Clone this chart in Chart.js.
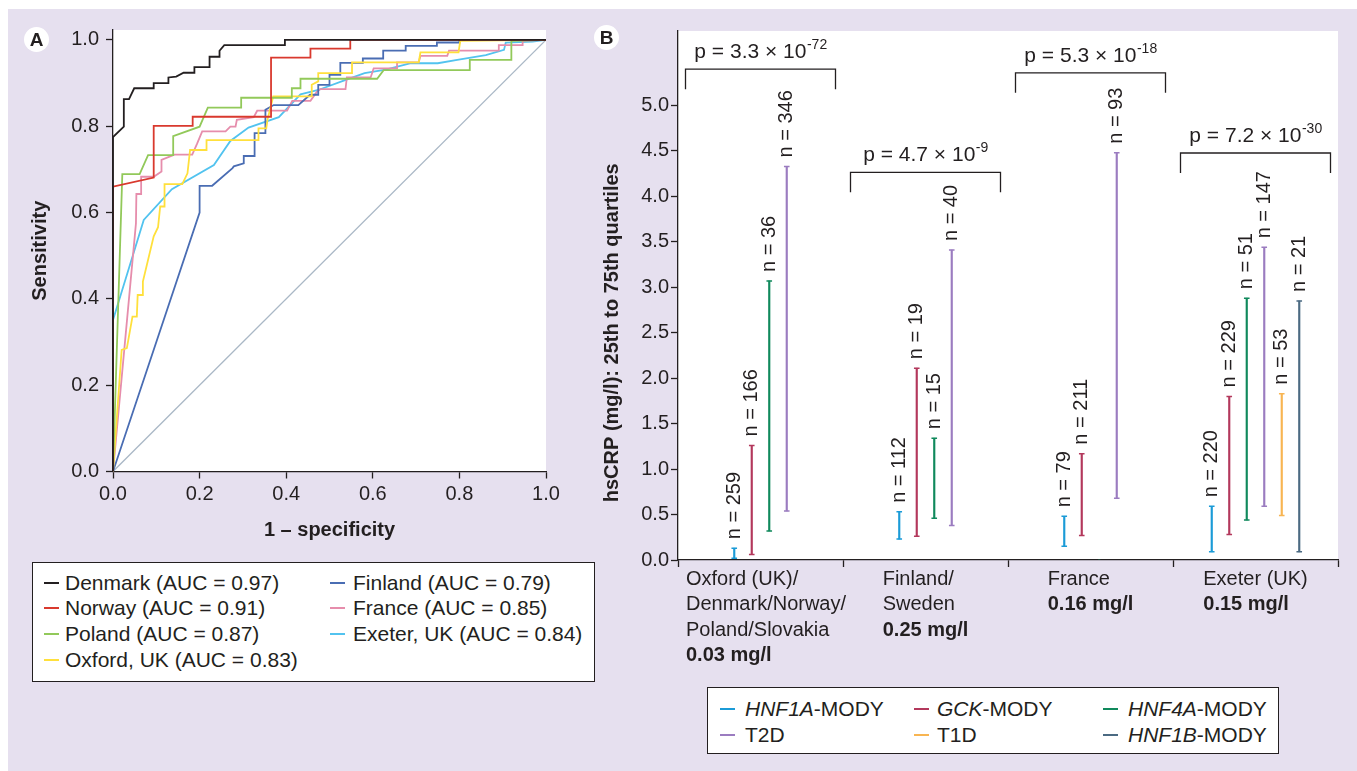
<!DOCTYPE html>
<html><head><meta charset="utf-8">
<script src="https://cdn.jsdelivr.net/npm/chart.js@4.4.1/dist/chart.umd.min.js"></script>
<style>
html,body{margin:0;padding:0;background:#fff;}
body{width:1357px;height:771px;position:relative;overflow:hidden;font-family:'Liberation Sans',Arial,Helvetica,sans-serif;color:#231f20;}
#bg{position:absolute;left:8px;top:9px;width:1349px;height:762px;background:#e6e0ef;}
canvas{position:absolute;}
#cA{left:8px;top:9px;width:582px;height:551px;}
#cB{left:590px;top:9px;width:767px;height:676px;}
.badge{position:absolute;width:25px;height:25px;border-radius:50%;background:#fff;font-weight:bold;font-size:19px;line-height:26px;text-align:center;}
.legend{position:absolute;background:#fff;border:1px solid #231f20;box-sizing:border-box;}
.item{position:absolute;white-space:nowrap;line-height:24px;height:24px;}
.swatch{position:absolute;height:2px;}
</style></head>
<body>
<div id="bg"></div>
<canvas id="cA" width="582" height="551"></canvas>
<canvas id="cB" width="767" height="676"></canvas>
<div class="badge" style="left:24px;top:27px;">A</div>
<div class="badge" style="left:594px;top:25px;">B</div>
<div id="legA" class="legend" style="left:32px;top:562px;width:563px;height:120px;font-size:21px;"></div>
<div id="legB" class="legend" style="left:707px;top:687px;width:572px;height:67px;font-size:21px;"></div>
<script>
// ---------- Panel A: ROC curves ----------
const rocNames = ['Denmark', 'Norway', 'Poland', 'Oxford, UK', 'Finland', 'France', 'Exeter, UK'];
const rocAuc = [0.97, 0.91, 0.87, 0.83, 0.79, 0.85, 0.84];
const rocTicks = [0, 0.2, 0.4, 0.6, 0.8, 1.0];

const denmarkRoc = [[0,0],[0,0.775],[0.025,0.799],[0.025,0.863],[0.037,0.863],[0.049,0.888],[0.094,0.888],[0.094,0.900],[0.128,0.900],[0.128,0.913],[0.146,0.915],[0.163,0.924],[0.188,0.924],[0.188,0.937],[0.223,0.937],[0.223,0.961],[0.246,0.961],[0.246,0.975],[0.257,0.988],[0.397,0.988],[0.397,1.0],[1,1]];
const norwayRoc = [[0,0],[0,0.660],[0.094,0.681],[0.094,0.801],[0.184,0.801],[0.184,0.822],[0.365,0.822],[0.365,0.959],[0.456,0.959],[0.456,0.980],[0.548,0.980],[0.548,1.0],[1,1]];
const polandRoc = [[0,0],[0.0215,0.689],[0.0615,0.689],[0.081,0.733],[0.139,0.733],[0.139,0.777],[0.200,0.799],[0.219,0.843],[0.296,0.843],[0.296,0.866],[0.413,0.866],[0.413,0.888],[0.433,0.888],[0.433,0.910],[0.610,0.910],[0.625,0.930],[0.824,0.930],[0.824,0.954],[0.920,0.954],[0.920,0.998],[1,1]];
const oxfordRoc = [[0,0],[0.020,0.282],[0.032,0.286],[0.045,0.359],[0.055,0.359],[0.057,0.409],[0.069,0.409],[0.069,0.440],[0.094,0.545],[0.104,0.566],[0.109,0.614],[0.119,0.614],[0.119,0.666],[0.160,0.666],[0.172,0.691],[0.178,0.745],[0.216,0.745],[0.216,0.768],[0.336,0.768],[0.336,0.795],[0.354,0.795],[0.357,0.816],[0.370,0.869],[0.459,0.869],[0.459,0.896],[0.474,0.904],[0.474,0.923],[0.552,0.923],[0.552,0.948],[0.706,0.948],[0.710,0.971],[0.798,0.971],[0.802,0.998],[1,1]];
const finlandRoc = [[0,0],[0.200,0.600],[0.200,0.662],[0.229,0.662],[0.276,0.703],[0.279,0.707],[0.302,0.714],[0.302,0.731],[0.327,0.731],[0.327,0.784],[0.352,0.784],[0.352,0.838],[0.371,0.849],[0.428,0.849],[0.455,0.873],[0.474,0.873],[0.474,0.896],[0.500,0.896],[0.500,0.919],[0.525,0.919],[0.525,0.947],[0.577,0.947],[0.577,0.957],[0.624,0.957],[0.624,0.975],[0.676,0.975],[0.676,0.986],[0.748,0.986],[0.748,0.994],[0.800,0.994],[0.800,1.0],[1,1]];
const franceRoc = [[0,0],[0.053,0.575],[0.054,0.643],[0.065,0.643],[0.065,0.683],[0.094,0.683],[0.112,0.695],[0.112,0.722],[0.142,0.734],[0.183,0.734],[0.194,0.759],[0.206,0.788],[0.260,0.788],[0.271,0.799],[0.283,0.799],[0.286,0.815],[0.325,0.821],[0.333,0.836],[0.402,0.836],[0.414,0.859],[0.456,0.859],[0.471,0.880],[0.479,0.886],[0.537,0.886],[0.540,0.913],[0.595,0.913],[0.602,0.934],[0.656,0.934],[0.656,0.948],[0.706,0.948],[0.710,0.963],[0.772,0.963],[0.776,0.975],[0.891,0.975],[0.891,0.988],[0.946,0.988],[0.946,0.998],[1,1]];
const exeterRoc = [[0,0],[0,0.351],[0.071,0.583],[0.136,0.654],[0.233,0.710],[0.271,0.766],[0.313,0.797],[0.383,0.821],[0.433,0.874],[0.474,0.884],[0.536,0.907],[0.581,0.923],[0.630,0.931],[0.688,0.946],[0.750,0.946],[0.795,0.954],[0.861,0.965],[0.903,0.977],[0.907,0.994],[0.969,0.996],[1,1]];
const chanceRoc = [[0,0],[1,1]];

const rocSeries = [denmarkRoc, norwayRoc, polandRoc, oxfordRoc, finlandRoc, franceRoc, exeterRoc];
const rocColors = ['#231f20', '#d9392e', '#92c95a', '#ffe03c', '#4a6db3', '#e68dac', '#52c3ef'];

// ---------- Panel B: hsCRP interquartile ranges ----------
const groupLines = [['Oxford (UK)/', 'Denmark/Norway/', 'Poland/Slovakia'], ['Finland/', 'Sweden'], ['France'], ['Exeter (UK)']];
const groupMedian = ['0.03 mg/l', '0.25 mg/l', '0.16 mg/l', '0.15 mg/l'];
const pCoef = ['3.3', '4.7', '5.3', '7.2'];
const pExp = ['-72', '-9', '-18', '-30'];
const crpTicks = [0, 0.5, 1.0, 1.5, 2.0, 2.5, 3.0, 3.5, 4.0, 4.5, 5.0];

const typeNames = ['HNF1A', 'GCK', 'HNF4A', 'T2D', 'T1D', 'HNF1B'];
const typeIsMody = [true, true, true, false, false, true];
const typeColors = ['#1b9bd7', '#b3385c', '#10895c', '#9b7cc0', '#f8b552', '#4b6a82'];

const hnf1aLow  = [0.02, 0.23, 0.15, 0.09];
const hnf1aHigh = [0.13, 0.53, 0.48, 0.59];
const hnf1aN    = [259, 112, 79, 220];
const gckLow    = [0.06, 0.26, 0.27, 0.28];
const gckHigh   = [1.26, 2.11, 1.17, 1.80];
const gckN      = [166, 19, 211, 229];
const hnf4aLow  = [0.32, 0.46, null, 0.44];
const hnf4aHigh = [3.07, 1.34, null, 2.88];
const hnf4aN    = [36, 15, null, 51];
const t2dLow    = [0.54, 0.38, 0.68, 0.59];
const t2dHigh   = [4.33, 3.41, 4.48, 3.44];
const t2dN      = [346, 40, 93, 147];
const t1dLow    = [null, null, null, 0.49];
const t1dHigh   = [null, null, null, 1.83];
const t1dN      = [null, null, null, 53];
const hnf1bLow  = [null, null, null, 0.09];
const hnf1bHigh = [null, null, null, 2.85];
const hnf1bN    = [null, null, null, 21];

const lows = [hnf1aLow, gckLow, hnf4aLow, t2dLow, t1dLow, hnf1bLow];
const highs = [hnf1aHigh, gckHigh, hnf4aHigh, t2dHigh, t1dHigh, hnf1bHigh];
const counts = [hnf1aN, gckN, hnf4aN, t2dN, t1dN, hnf1bN];

const INK = '#231f20';
const FONT = "'Liberation Sans', Arial, Helvetica, sans-serif";
Chart.defaults.font.family = FONT;
Chart.defaults.color = INK;

const whiteArea = {
  id: 'whiteArea',
  beforeDraw(c) {
    const {ctx, chartArea: a} = c;
    ctx.save(); ctx.fillStyle = '#fff';
    ctx.fillRect(a.left, a.top, a.right - a.left, a.bottom - a.top);
    ctx.restore();
  }
};

// ---- Chart A ----
const rocDatasets = rocSeries.map((s, i) => ({
  label: rocNames[i],
  data: s.map(p => ({x: p[0], y: p[1]})),
  borderColor: rocColors[i], backgroundColor: rocColors[i],
  showLine: true, borderWidth: 1.8, pointRadius: 0, tension: 0, fill: false
}));
rocDatasets.push({
  label: 'chance', data: chanceRoc.map(p => ({x: p[0], y: p[1]})),
  borderColor: '#aab8c6', showLine: true, borderWidth: 1.3, pointRadius: 0, fill: false
});

new Chart(document.getElementById('cA'), {
  type: 'scatter',
  data: {datasets: rocDatasets},
  options: {
    responsive: false, animation: false,
    layout: {padding: {left: 0, top: 21, right: 44, bottom: 0}},
    plugins: {legend: {display: false}, tooltip: {enabled: false}},
    scales: {
      x: {
        type: 'linear', min: 0, max: 1,
        afterBuildTicks: s => { s.ticks = rocTicks.map(v => ({value: v})); },
        afterFit: s => { s.height = 88.5; },
        ticks: {callback: v => Number(v).toFixed(1), font: {size: 20}, padding: 4, maxRotation: 0, autoSkip: false, color: INK},
        grid: {drawOnChartArea: false, color: INK, tickLength: 7, tickWidth: 1.3},
        border: {color: INK, width: 1.3},
        title: {display: true, text: '1 – specificity', font: {size: 20, weight: 'bold'}, padding: {top: 0, bottom: 18}, color: INK}
      },
      y: {
        type: 'linear', min: 0, max: 1.023,
        afterBuildTicks: s => { s.ticks = rocTicks.map(v => ({value: v})); },
        afterFit: s => { s.width = 105; },
        ticks: {callback: v => Number(v).toFixed(1), font: {size: 20}, padding: 7, autoSkip: false, color: INK},
        grid: {drawOnChartArea: false, color: INK, tickLength: 7, tickWidth: 1.3},
        border: {color: INK, width: 1.3},
        title: {display: true, text: 'Sensitivity', font: {size: 20, weight: 'bold'}, padding: {top: 20, bottom: 0}, color: INK}
      }
    }
  },
  plugins: [whiteArea]
});

// ---- Chart B ----
// An empty group keeps its slot when a later group in the same category is present
// (as in the original figure); trailing empty groups take no slot.
function rangeData(k) {
  return lows[k].map((lo, i) => {
    if (lo !== null) return [lo, highs[k][i]];
    const later = lows.slice(k + 1).some(a => a[i] !== null);
    return later ? [0, 0] : null;
  });
}
const crpDatasets = typeNames.map((t, k) => ({
  label: t,
  data: rangeData(k),
  nValues: counts[k],
  backgroundColor: typeColors[k], borderColor: typeColors[k], borderWidth: 0,
  barThickness: 17.5, maxBarThickness: 1.5, skipNull: true
}));

const rangeMarks = {
  id: 'rangeMarks',
  afterDatasetsDraw(c) {
    const ctx = c.ctx;
    c.data.datasets.forEach((ds, k) => {
      const meta = c.getDatasetMeta(k);
      meta.data.forEach((el, i) => {
        const n = ds.nValues[i];
        if (n === null || n === undefined) return;
        ctx.save();
        ctx.strokeStyle = ds.backgroundColor; ctx.lineWidth = 1.5;
        ctx.beginPath();
        ctx.moveTo(el.x - 2.8, el.y); ctx.lineTo(el.x + 2.8, el.y);
        ctx.moveTo(el.x - 2.8, el.base); ctx.lineTo(el.x + 2.8, el.base);
        ctx.stroke();
        ctx.fillStyle = INK; ctx.font = '20px ' + FONT;
        ctx.translate(el.x, el.y - 9); ctx.rotate(-Math.PI / 2);
        ctx.textAlign = 'left'; ctx.textBaseline = 'middle';
        ctx.fillText('n = ' + n, 0, 0);
        ctx.restore();
      });
    });
  }
};

const annotations = {
  id: 'annotations',
  afterDraw(c, args, opts) {
    const ctx = c.ctx, xs = c.scales.x, ys = c.scales.y;
    const half = xs.width / xs.ticks.length / 2;
    ctx.save();
    ctx.fillStyle = INK; ctx.strokeStyle = INK;
    // p-value brackets
    pCoef.forEach((coef, i) => {
      const cx = xs.getPixelForValue(i);
      const l = cx - half + opts.inset, r = cx + half - opts.inset;
      const top = ys.getPixelForValue(opts.levels[i]);
      ctx.lineWidth = 1.3;
      ctx.beginPath();
      ctx.moveTo(l, top + opts.leg); ctx.lineTo(l, top); ctx.lineTo(r, top); ctx.lineTo(r, top + opts.leg);
      ctx.stroke();
      const main = 'p = ' + coef + ' × 10';
      ctx.font = '21px ' + FONT; const w1 = ctx.measureText(main).width;
      ctx.font = '14px ' + FONT; const w2 = ctx.measureText(pExp[i]).width;
      const x0 = cx - (w1 + w2) / 2, ty = top - 17;
      ctx.textAlign = 'left'; ctx.textBaseline = 'middle';
      ctx.font = '21px ' + FONT; ctx.fillText(main, x0, ty);
      ctx.font = '14px ' + FONT; ctx.fillText(pExp[i], x0 + w1 + 0.5, ty - 7);
    });
    // category labels
    groupLines.forEach((lines, i) => {
      const cx = xs.getPixelForValue(i);
      ctx.font = '20px ' + FONT;
      let maxW = Math.max(...lines.map(s => ctx.measureText(s).width));
      ctx.font = 'bold 20px ' + FONT;
      maxW = Math.max(maxW, ctx.measureText(groupMedian[i]).width);
      const x0 = Math.max(cx - maxW / 2, cx - half + 8);
      ctx.textAlign = 'left'; ctx.textBaseline = 'middle';
      let y = xs.top + 19.5;
      ctx.font = '20px ' + FONT;
      lines.forEach(s => { ctx.fillText(s, x0, y); y += 25.3; });
      ctx.font = 'bold 20px ' + FONT;
      ctx.fillText(groupMedian[i], x0, y);
    });
    // y-axis title, centred on the tick range
    const ym = (ys.getPixelForValue(crpTicks[0]) + ys.getPixelForValue(crpTicks[crpTicks.length - 1])) / 2;
    ctx.translate(22, ym); ctx.rotate(-Math.PI / 2);
    ctx.textAlign = 'center'; ctx.textBaseline = 'middle';
    ctx.font = 'bold 20px ' + FONT;
    ctx.fillText('hsCRP (mg/l): 25th to 75th quartiles', 0, 0);
    ctx.restore();
  }
};

new Chart(document.getElementById('cB'), {
  type: 'bar',
  data: {labels: groupLines.map(g => g.join(' ')), datasets: crpDatasets},
  options: {
    responsive: false, animation: false,
    layout: {padding: {left: 0, top: 22, right: 19, bottom: 0}},
    plugins: {
      legend: {display: false}, tooltip: {enabled: false},
      annotations: {levels: [5.40, 4.265, 5.36, 4.478], leg: 20, inset: 7.5}
    },
    scales: {
      x: {
        type: 'category', offset: true,
        afterFit: s => { s.height = 125; },
        ticks: {display: false},
        grid: {display: true, drawOnChartArea: false, offset: true, color: INK, tickLength: 7, tickWidth: 1.3},
        border: {color: INK, width: 1.3}
      },
      y: {
        min: 0, max: 5.82,
        afterBuildTicks: s => { s.ticks = crpTicks.map(v => ({value: v})); },
        afterFit: s => { s.width = 88; },
        ticks: {callback: v => Number(v).toFixed(1), font: {size: 20}, padding: 2, autoSkip: false, color: INK},
        grid: {drawOnChartArea: false, color: INK, tickLength: 7, tickWidth: 1.3},
        border: {color: INK, width: 1.3}
      }
    }
  },
  plugins: [whiteArea, rangeMarks, annotations]
});

// ---- HTML legends ----
(function () {
  const box = document.getElementById('legA');
  rocNames.forEach((name, i) => {
    const col = i < 4 ? 0 : 1, row = i < 4 ? i : i - 4;
    const cy = 19.7 + row * 25.6;
    const sw = document.createElement('div');
    sw.className = 'swatch';
    sw.style.left = (col ? 297 : 11) + 'px'; sw.style.width = '15px';
    sw.style.top = Math.round(cy - 1) + 'px'; sw.style.background = rocColors[i];
    box.appendChild(sw);
    const t = document.createElement('div');
    t.className = 'item';
    t.style.left = (col ? 320 : 32) + 'px'; t.style.top = (cy - 12) + 'px';
    t.textContent = name + ' (AUC = ' + rocAuc[i].toFixed(2) + ')';
    box.appendChild(t);
  });
  const boxB = document.getElementById('legB');
  const swX = [12, 206, 395], txX = [37, 229, 420];
  typeNames.forEach((name, k) => {
    const col = k % 3, row = Math.floor(k / 3);
    const cy = 21.3 + row * 25.7;
    const sw = document.createElement('div');
    sw.className = 'swatch';
    sw.style.left = swX[col] + 'px'; sw.style.width = '15px';
    sw.style.top = Math.round(cy - 1) + 'px'; sw.style.background = typeColors[k];
    boxB.appendChild(sw);
    const t = document.createElement('div');
    t.className = 'item';
    t.style.left = txX[col] + 'px'; t.style.top = (cy - 12) + 'px';
    if (typeIsMody[k]) {
      const it = document.createElement('i'); it.textContent = name;
      t.appendChild(it); t.appendChild(document.createTextNode('-MODY'));
    } else {
      t.textContent = name;
    }
    boxB.appendChild(t);
  });
})();
</script>
</body></html>
